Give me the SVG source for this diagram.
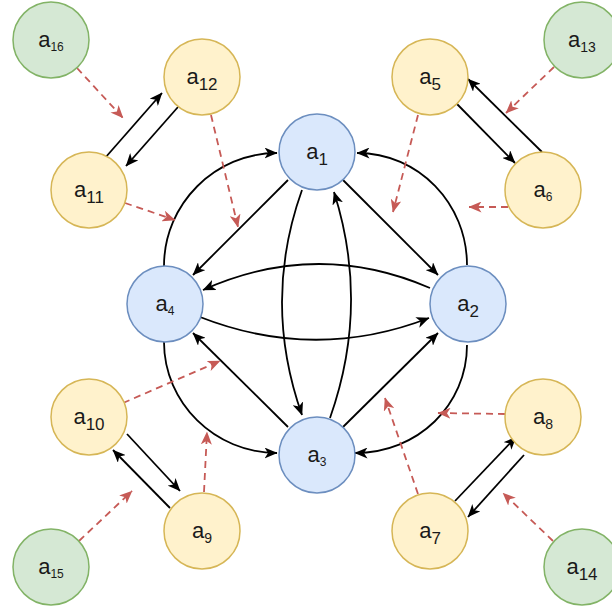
<svg xmlns="http://www.w3.org/2000/svg" width="612" height="613" viewBox="0 0 612 613">
<style>
.blue circle{fill:#dae8fc;stroke:#6c8ebf;stroke-width:1.5}
.yel circle{fill:#fff2cc;stroke:#d6b656;stroke-width:1.5}
.grn circle{fill:#d5e8d4;stroke:#82b366;stroke-width:1.5}
text{font-family:"Liberation Sans",Arial,sans-serif;font-size:22px;fill:#1a1a1a;text-anchor:middle}
.b{font-size:17px}
.m{font-size:14px}
.s{font-size:12px}
.e{fill:none;stroke:#000;stroke-width:1.8;marker-end:url(#ab)}
.d{fill:none;stroke:#c65a56;stroke-width:1.8;stroke-dasharray:7 5;marker-end:url(#ar)}
</style>
<defs>
<marker id="ab" viewBox="0 0 13 11" refX="12.5" refY="5.5" markerWidth="13" markerHeight="11" markerUnits="userSpaceOnUse" orient="auto"><path d="M0,0 L13,5.5 L0,11 L3.5,5.5 Z" fill="#000"/></marker>
<marker id="ar" viewBox="0 0 13 11" refX="12.5" refY="5.5" markerWidth="13" markerHeight="11" markerUnits="userSpaceOnUse" orient="auto"><path d="M0,0 L13,5.5 L0,11 L3.5,5.5 Z" fill="#c65a56"/></marker>
</defs>
<g id="connectors">
<path class="e" d="M164,266 C164,204 215,153 277,153"/>
<path class="e" d="M467,265 C467,204 419,153 357,153"/>
<path class="e" d="M467,345 C467,405 418,453 355,453"/>
<path class="e" d="M164,342 C164,403 215,453 277,453"/>
<path class="e" d="M430,288 Q317,239 203,290"/>
<path class="e" d="M200,317 Q315,362 429,318"/>
<path class="e" d="M302,190 Q262,302 302,415"/>
<path class="e" d="M330,418 Q370,305 334,192"/>
<path class="e" d="M288,180 L193,275"/>
<path class="e" d="M343,180 L438,275"/>
<path class="e" d="M343,427 L438,333"/>
<path class="e" d="M288,427 L193,333"/>
<path class="e" d="M105,158 L162,93"/>
<path class="e" d="M178,107 L126,166"/>
<path class="e" d="M457,104 L515,163"/>
<path class="e" d="M542,152 L468,79"/>
<path class="e" d="M127,434 L180,491"/>
<path class="e" d="M170,508 L113,450"/>
<path class="e" d="M455,501 L516,437"/>
<path class="e" d="M524,455 L468,517"/>
<path class="d" d="M77,68 L123,118"/>
<path class="d" d="M211,115 L238,227"/>
<path class="d" d="M125,203 L175,220"/>
<path class="d" d="M418,115 L393,212"/>
<path class="d" d="M554,67 L506,113"/>
<path class="d" d="M508,207 L469,207"/>
<path class="d" d="M123,403 L220,361"/>
<path class="d" d="M204,492 L207,432"/>
<path class="d" d="M79,541 L132,491"/>
<path class="d" d="M505,414 L438,413"/>
<path class="d" d="M418,494 L385,398"/>
<path class="d" d="M553,541 L503,493"/>
</g>
<g id="a1" class="blue"><circle cx="317" cy="152" r="38"/><text x="317" y="159">a<tspan class="b" dy="6">1</tspan></text></g>
<g id="a2" class="blue"><circle cx="468" cy="304" r="38"/><text x="468" y="311">a<tspan class="b" dy="6">2</tspan></text></g>
<g id="a3" class="blue"><circle cx="317" cy="455" r="38"/><text x="317" y="462">a<tspan class="s" dy="4">3</tspan></text></g>
<g id="a4" class="blue"><circle cx="165" cy="304" r="38"/><text x="165" y="311">a<tspan class="s" dy="4">4</tspan></text></g>
<g id="a5" class="yel"><circle cx="430" cy="77" r="38"/><text x="430" y="84">a<tspan class="b" dy="6">5</tspan></text></g>
<g id="a6" class="yel"><circle cx="543" cy="190" r="38"/><text x="543" y="197">a<tspan class="s" dy="4">6</tspan></text></g>
<g id="a7" class="yel"><circle cx="430" cy="531" r="38"/><text x="430" y="538">a<tspan class="b" dy="6">7</tspan></text></g>
<g id="a8" class="yel"><circle cx="543" cy="417" r="38"/><text x="543" y="424">a<tspan class="m" dy="5">8</tspan></text></g>
<g id="a9" class="yel"><circle cx="202" cy="531" r="38"/><text x="202" y="538">a<tspan class="m" dy="5">9</tspan></text></g>
<g id="a10" class="yel"><circle cx="89" cy="417" r="38"/><text x="89" y="424">a<tspan class="b" dy="6">10</tspan></text></g>
<g id="a11" class="yel"><circle cx="89" cy="190" r="38"/><text x="89" y="197">a<tspan class="b" dy="6">11</tspan></text></g>
<g id="a12" class="yel"><circle cx="202" cy="77" r="38"/><text x="202" y="84">a<tspan class="b" dy="6">12</tspan></text></g>
<g id="a13" class="grn"><circle cx="582" cy="40" r="38"/><text x="582" y="47">a<tspan class="m" dy="5">13</tspan></text></g>
<g id="a14" class="grn"><circle cx="582" cy="567" r="38"/><text x="582" y="574">a<tspan class="b" dy="6">14</tspan></text></g>
<g id="a15" class="grn"><circle cx="51" cy="567" r="38"/><text x="51" y="574">a<tspan class="s" dy="4">15</tspan></text></g>
<g id="a16" class="grn"><circle cx="51" cy="40" r="38"/><text x="51" y="47">a<tspan class="s" dy="4">16</tspan></text></g>
</svg>
